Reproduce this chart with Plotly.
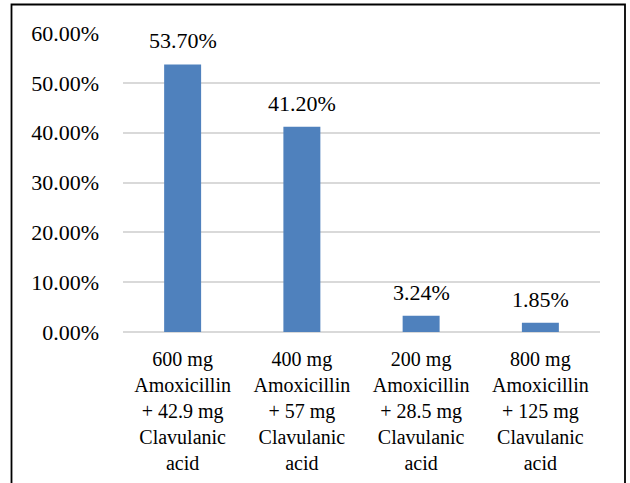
import plotly.graph_objects as go

categories = [
    "600 mg<br>Amoxicillin<br>+ 42.9 mg<br>Clavulanic<br>acid",
    "400 mg<br>Amoxicillin<br>+ 57 mg<br>Clavulanic<br>acid",
    "200 mg<br>Amoxicillin<br>+ 28.5 mg<br>Clavulanic<br>acid",
    "800 mg<br>Amoxicillin<br>+ 125 mg<br>Clavulanic<br>acid",
]
values = [0.537, 0.412, 0.0324, 0.0185]
value_labels = ["53.70%", "41.20%", "3.24%", "1.85%"]
y_ticks = [0, 0.1, 0.2, 0.3, 0.4, 0.5, 0.6]

FONT = "Liberation Serif, Times New Roman, serif"

fig = go.Figure()
fig.add_trace(go.Bar(
    x=categories, y=values,
    marker=dict(color="#4f81bd", line=dict(width=0)),
    width=0.31,
    hoverinfo="skip",
))

for c, v, t in zip(categories, values, value_labels):
    fig.add_annotation(x=c, y=v, text=t, showarrow=False, yanchor="bottom",
                       yshift=9, font=dict(family=FONT, size=22, color="#000000"))

fig.update_layout(
    width=630, height=483,
    margin=dict(l=123, r=30, t=33, b=151),
    paper_bgcolor="white", plot_bgcolor="white",
    showlegend=False,
    font=dict(family=FONT, size=20, color="#000000"),
    xaxis=dict(
        showgrid=False, showline=False, zeroline=False, automargin=False,
        ticks="", ticklabelstandoff=13,
        tickfont=dict(family=FONT, size=20, color="#000000"),
    ),
    yaxis=dict(
        range=[0, 0.6], tickvals=y_ticks, tickformat=".2%", automargin=False,
        showgrid=True, gridcolor="#d9d9d9", gridwidth=1.5,
        zeroline=True, zerolinecolor="#d9d9d9", zerolinewidth=1.5,
        showline=False, ticks="", ticklabelstandoff=23,
        tickfont=dict(family=FONT, size=22, color="#000000"),
    ),
)

# chart frame
fig.add_shape(type="rect", xref="paper", yref="paper",
              x0=(11.5 - 123) / 477, x1=(625 - 123) / 477,
              y0=(332 - 500) / 299, y1=(332 - 4.5) / 299,
              line=dict(color="#000000", width=1.8), fillcolor="rgba(0,0,0,0)",
              layer="below")

fig.write_html(
    "out.html",
    config={"displayModeBar": False},
    post_script="document.body.style.margin='0';document.body.style.overflow='hidden';",
)
